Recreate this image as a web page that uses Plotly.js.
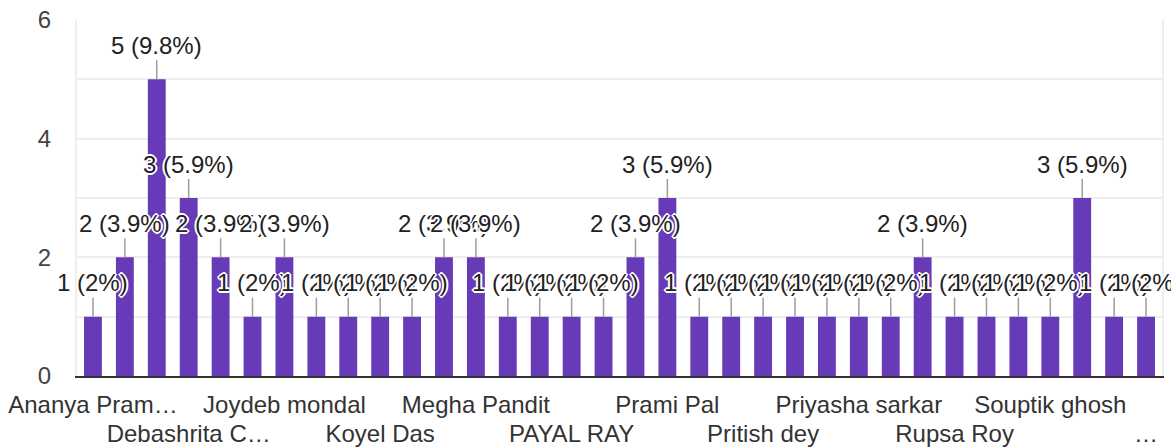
<!DOCTYPE html>
<html>
<head>
<meta charset="utf-8">
<script src="https://cdn.plot.ly/plotly-3.0.1.min.js"></script>
<style>html,body{margin:0;padding:0;background:#fff;}#chart{width:1171px;height:448px;}</style>
</head>
<body>
<div id="chart"></div>
<script>
// Responses per option (34 bars, left to right)
const counts = [1,2,5,3,2,1,2,1,1,1,1,2,2,1,1,1,1,2,3,1,1,1,1,1,1,1,2,1,1,1,1,3,1,1];
// Visible category labels (every third bar, alternating rows)
const tickLabels = ["Ananya Pram…","Debashrita C…","Joydeb mondal","Koyel Das","Megha Pandit","PAYAL RAY","Prami Pal","Pritish dey","Priyasha sarkar","Rupsa Roy","Souptik ghosh","…"];
const yTicks = [0,2,4,6];

const idx = counts.map((_, i) => i);
const total = counts.reduce((a, b) => a + b, 0);
function fmtPct(c) {
  const p = Math.round(c / total * 1000) / 10;
  return (p % 1 === 0 ? p.toFixed(0) : p.toFixed(1)) + '%';
}
const tickPos = tickLabels.map((_, k) => k * 3);
const row1Vals = tickPos.filter((_, k) => k % 2 === 0);
const row1Text = tickLabels.filter((_, k) => k % 2 === 0);
const row2Vals = tickPos.filter((_, k) => k % 2 === 1);
const row2Text = tickLabels.filter((_, k) => k % 2 === 1);

const FONT = '"Liberation Sans", Arial, sans-serif';
const halo = ['1px 0 0','-1px 0 0','0 1px 0','0 -1px 0','1px 1px 0','-1px -1px 0','1px -1px 0','-1px 1px 0','2px 0 0','-2px 0 0','0 2px 0','0 -2px 0']
  .map(s => '#fff ' + s).join(', ');

const annotations = counts.map((c, i) => ({
  x: i, y: c, xref: 'x', yref: 'y',
  text: c + ' (' + fmtPct(c) + ')',
  showarrow: true, arrowhead: 0, arrowwidth: 1.5, arrowcolor: '#9e9e9e',
  ax: 0, ay: -34, standoff: 0,
  font: {family: FONT, size: 24, color: '#222222', shadow: halo}
}));

const trace = {
  type: 'bar', x: idx, y: counts,
  marker: {color: '#673ab7'},
  hoverinfo: 'none'
};

const layout = {
  width: 1171, height: 448,
  margin: {l: 77, r: 9, t: 20, b: 72},
  paper_bgcolor: '#fff', plot_bgcolor: '#fff',
  bargap: 0.44,
  showlegend: false,
  font: {family: FONT, size: 22, color: '#333'},
  xaxis: {
    range: [-0.5, counts.length - 0.5], fixedrange: true,
    tickmode: 'array', tickvals: row1Vals, ticktext: row1Text,
    ticks: '', ticklabelstandoff: 6,
    tickfont: {family: FONT, size: 24, color: '#333333'},
    showgrid: false, zeroline: false,
    showline: true, linecolor: '#333333', linewidth: 2
  },
  xaxis2: {
    overlaying: 'x', matches: 'x', anchor: 'y', side: 'bottom',
    range: [-0.5, counts.length - 0.5],
    tickmode: 'array', tickvals: row2Vals, ticktext: row2Text,
    ticks: '', ticklabelstandoff: 41,
    tickfont: {family: FONT, size: 24, color: '#333333'},
    showgrid: false, zeroline: false, showline: false
  },
  yaxis: {
    range: [0, 6], fixedrange: true,
    tickmode: 'array', tickvals: yTicks,
    ticks: '', ticklabelstandoff: 19,
    tickfont: {family: FONT, size: 24, color: '#444444'},
    showgrid: true, gridcolor: '#eeeeee', gridwidth: 2,
    minor: {dtick: 1, showgrid: true, gridcolor: '#eeeeee', gridwidth: 2, ticks: ''},
    zeroline: false,
    showline: true, mirror: true, linecolor: '#eeeeee', linewidth: 2
  },
  annotations: annotations
};

Plotly.newPlot('chart', [trace, {type: 'scatter', x: [0], y: [0], xaxis: 'x2', mode: 'none', hoverinfo: 'none', showlegend: false}], layout, {staticPlot: true, displayModeBar: false});
</script>
</body>
</html>
